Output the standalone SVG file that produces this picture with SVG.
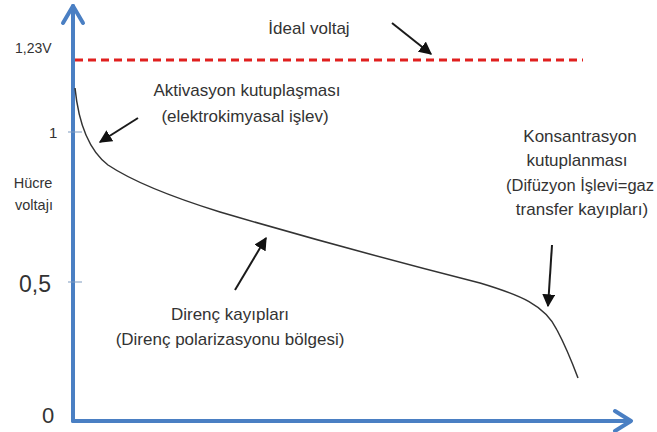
<svg xmlns="http://www.w3.org/2000/svg" width="657" height="432" viewBox="0 0 657 432">
<defs>
<style>
.t{font-family:"Liberation Sans",Arial,sans-serif;fill:#333;}
.l{font-size:17px;}
.axis{stroke:#4a7fc3;stroke-width:4;fill:none;stroke-linecap:round;stroke-linejoin:round;}
.ptr{stroke:#1a1a1a;stroke-width:2;fill:none;}
.tick{stroke:#7f9bbf;stroke-width:1;}
</style>
<marker id="ah" viewBox="0 0 10 10" refX="9" refY="5" markerWidth="6.5" markerHeight="6.5" markerUnits="strokeWidth" orient="auto">
<path d="M0,0 L10,5 L0,10 Z" fill="#111"/>
</marker>
</defs>
<rect width="657" height="432" fill="#fff"/>
<g id="axes">
<path class="axis" d="M73,421 L73,6"/>
<path class="axis" d="M63,23 L73,6 L83,23"/>
<path class="axis" d="M73,421 L630,421"/>
<path class="axis" d="M615,411 L631,421 L615,431"/>
<line class="tick" x1="68" y1="132" x2="82" y2="132"/>
<line class="tick" x1="68" y1="282" x2="82" y2="282"/>
</g>
<g id="ideal-line">
<line x1="75" y1="60" x2="583" y2="60" stroke="#e0201f" stroke-width="3" stroke-dasharray="8,5"/>
</g>
<g id="curve">
<path d="M75,88 C78,118 86,148 108,165 C135,183 175,198 220,212 Q350,250 480,283 C520,295 545,305 557,330 C565,345 572,362 578,378" fill="none" stroke="#333" stroke-width="1.5"/>
</g>
<g id="axis-labels">
<text class="t" x="15" y="53" font-size="14">1,23V</text>
<text class="t" x="49" y="138" font-size="15">1</text>
<text class="t" x="33" y="188" font-size="14.5" text-anchor="middle">Hücre</text>
<text class="t" x="34" y="210" font-size="14.5" text-anchor="middle">voltajı</text>
<text class="t" x="19" y="292" font-size="23">0,5</text>
<text class="t" x="42" y="423" font-size="22">0</text>
</g>
<g id="label-ideal">
<text class="t l" x="309" y="34" text-anchor="middle">İdeal voltaj</text>
</g>
<g id="label-aktivasyon">
<text class="t l" x="247" y="96" text-anchor="middle">Aktivasyon kutuplaşması</text>
<text class="t l" x="245" y="122" text-anchor="middle">(elektrokimyasal işlev)</text>
</g>
<g id="label-direnc">
<text class="t l" x="230" y="320" text-anchor="middle">Direnç kayıpları</text>
<text class="t l" x="230" y="345" text-anchor="middle">(Direnç polarizasyonu bölgesi)</text>
</g>
<g id="label-konsantrasyon">
<text class="t l" x="580" y="142" text-anchor="middle">Konsantrasyon</text>
<text class="t l" x="577" y="166" text-anchor="middle">kutuplanması</text>
<text class="t" x="506" y="191" font-size="16" textLength="148" lengthAdjust="spacingAndGlyphs">(Difüzyon İşlevi=gaz</text>
<text class="t l" x="582" y="215" text-anchor="middle">transfer kayıpları)</text>
</g>
<g id="connectors">
<line class="ptr" x1="392" y1="23" x2="431" y2="54" marker-end="url(#ah)"/>
<line class="ptr" x1="138" y1="118" x2="100" y2="142" marker-end="url(#ah)"/>
<line class="ptr" x1="235" y1="290" x2="266" y2="238" marker-end="url(#ah)"/>
<line class="ptr" x1="552" y1="245" x2="548" y2="306" marker-end="url(#ah)"/>
</g>
</svg>
